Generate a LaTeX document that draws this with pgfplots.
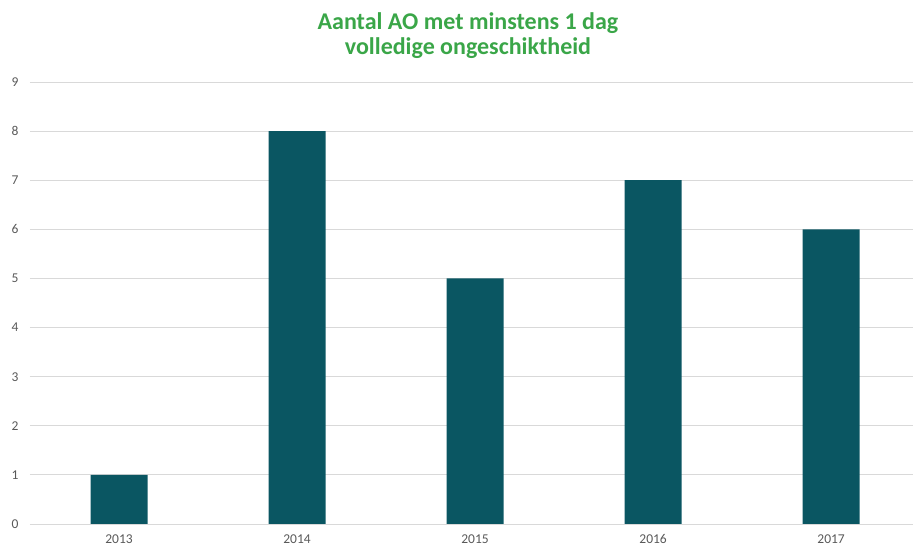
\documentclass[border=0pt]{standalone}
\usepackage{pgfplots}
\pgfplotsset{compat=1.18}
\usepackage{fontspec}
\setmainfont{Carlito}
\definecolor{barc}{HTML}{0A5662}
\definecolor{titlec}{HTML}{3AA648}
\definecolor{gridc}{HTML}{D9D9D9}
\definecolor{tickc}{HTML}{595959}
\begin{document}
\begin{tikzpicture}[x=1bp,y=1bp]
\path[use as bounding box] (-30bp,-25bp) rectangle (883bp,524bp);
\begin{axis}[
  at={(0,0)}, anchor=south west,
  scale only axis,
  width=883bp, height=442bp,
  xmin=-0.5, xmax=4.46,
  ymin=0, ymax=9,
  ytick={0,1,...,9},
  xtick=data,
  xticklabels={2013,2014,2015,2016,2017},
  ybar, bar width=57bp,
  ymajorgrids, grid style={gridc, line width=0.8pt},
  axis x line*=bottom,
  axis y line*=left,
  x axis line style={gridc, line width=0.8pt, -},
  y axis line style={draw=none},
  major tick length=0pt,
  tick style={draw=none},
  /pgf/number format/assume math mode=true,
  ticklabel style={font=\fontsize{13.5bp}{15bp}\selectfont, text=tickc},
  yticklabel style={xshift=-8bp},
  xticklabel style={yshift=-7bp},
  title={Aantal AO met minstens 1 dag\\volledige ongeschiktheid},
  title style={at={(0.496,1.091)}, anchor=center, align=center, font=\bfseries\fontsize{24bp}{24.5bp}\selectfont, text=titlec},
]
\addplot[fill=barc, draw=none] coordinates {(0,1) (1,8) (2,5) (3,7) (4,6)};
\end{axis}
\end{tikzpicture}
\end{document}
